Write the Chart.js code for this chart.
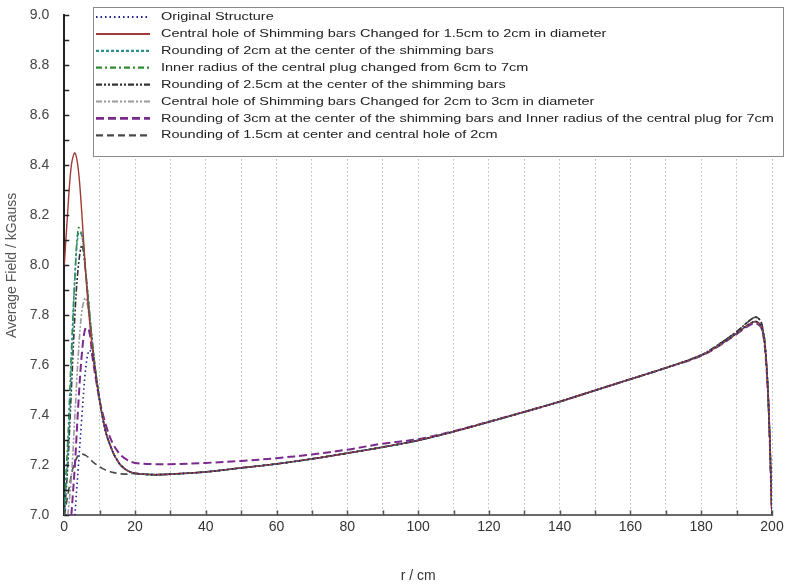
<!DOCTYPE html>
<html>
<head>
<meta charset="utf-8">
<script src="https://cdn.jsdelivr.net/npm/chart.js@4.4.0/dist/chart.umd.min.js"></script>
<style>
  body { margin: 0; background: #fff; }
  #wrap { width: 789px; height: 587px; position: relative; }
</style>
</head>
<body>
<div id="wrap"><canvas id="fieldChart"></canvas></div>
<script>
// radius positions (cm)
const headR = [0, 1, 2, 3, 4, 5, 6, 7, 8, 9, 10, 11, 12, 13, 14, 15, 16, 18];
const tailR = [20, 25, 30, 40, 50, 60, 70, 80, 90, 100, 110, 120, 130, 140, 150, 160, 170, 180, 185, 190, 193, 195, 196, 197, 198, 199, 200];

// common part of the field profile, r >= 20
const tailCommon = [7.168, 7.163, 7.165, 7.174, 7.19, 7.206, 7.226, 7.249, 7.273, 7.3, 7.335, 7.374, 7.414, 7.455, 7.5, 7.545, 7.59, 7.64, 7.68, 7.728, 7.76, 7.775, 7.772, 7.755, 7.68, 7.45, 7.0];
const tailPeakHigh = [7.168, 7.163, 7.165, 7.174, 7.19, 7.206, 7.226, 7.249, 7.273, 7.3, 7.335, 7.374, 7.414, 7.455, 7.5, 7.545, 7.59, 7.642, 7.685, 7.735, 7.772, 7.792, 7.79, 7.77, 7.69, 7.45, 7.0];
const tailPurple = [7.21, 7.205, 7.205, 7.21, 7.218, 7.229, 7.244, 7.263, 7.287, 7.305, 7.337, 7.375, 7.414, 7.455, 7.5, 7.545, 7.59, 7.638, 7.678, 7.725, 7.755, 7.768, 7.765, 7.75, 7.67, 7.44, 7.0];

// early part, r = 0..18 (null = not drawn)
const headOriginal = [null, null, null, 7.0, 7.2, 7.4, 7.58, 7.66, 7.64, 7.55, 7.46, 7.38, 7.32, 7.28, 7.245, 7.22, 7.2, 7.178];
const headHole15to2 = [8.0, 8.22, 8.4, 8.45, 8.38, 8.2, 7.98, 7.8, 7.66, 7.55, 7.46, 7.38, 7.32, 7.28, 7.245, 7.22, 7.2, 7.178];
const headRound2 = [7.0, 7.25, 7.6, 7.95, 8.13, 8.12, 7.98, 7.83, 7.68, 7.56, 7.46, 7.38, 7.32, 7.28, 7.245, 7.22, 7.2, 7.178];
const headInner7 = [7.05, 7.3, 7.65, 7.95, 8.15, 8.12, 7.98, 7.83, 7.68, 7.56, 7.46, 7.38, 7.32, 7.28, 7.245, 7.22, 7.2, 7.178];
const headRound25 = [7.0, 7.2, 7.5, 7.8, 8.0, 8.08, 7.98, 7.83, 7.68, 7.56, 7.46, 7.38, 7.32, 7.28, 7.245, 7.22, 7.2, 7.178];
const headHole2to3 = [null, 7.0, 7.15, 7.4, 7.65, 7.82, 7.87, 7.8, 7.68, 7.56, 7.46, 7.38, 7.32, 7.28, 7.245, 7.22, 7.2, 7.178];
const headRound3 = [null, null, 7.0, 7.2, 7.45, 7.65, 7.75, 7.74, 7.63, 7.54, 7.46, 7.4, 7.35, 7.31, 7.28, 7.258, 7.24, 7.22];
const headRound15 = [7.0, 7.08, 7.16, 7.215, 7.24, 7.245, 7.24, 7.23, 7.215, 7.204, 7.194, 7.186, 7.18, 7.175, 7.171, 7.168, 7.166, 7.165];

const labels = [
  "Original Structure",
  "Central hole of Shimming bars Changed for 1.5cm to 2cm in diameter",
  "Rounding of 2cm at the center of the shimming bars",
  "Inner radius of the central plug changed from 6cm to 7cm",
  "Rounding of 2.5cm at the center of the shimming bars",
  "Central hole of Shimming bars Changed for 2cm to 3cm in diameter",
  "Rounding of 3cm at the center of the shimming bars and Inner radius of the central plug for 7cm",
  "Rounding of 1.5cm at center and central hole of 2cm"
];

function points(head, tail) {
  const r = headR.concat(tailR);
  const v = head.concat(tail);
  const out = [];
  r.forEach((x, i) => {
    if (v[i] !== null) out.push({ x: x, y: v[i] });
  });
  return out;
}

const series = [
  { data: points(headOriginal, tailCommon), color: "#1f1f8f", dash: [1.5, 3], width: 1.6 },
  { data: points(headHole15to2, tailCommon), color: "#a23a35", dash: [], width: 1.4 },
  { data: points(headRound2, tailCommon), color: "#2f8f8f", dash: [3, 2], width: 1.6 },
  { data: points(headInner7, tailCommon), color: "#2f8a2f", dash: [6, 3, 2, 3], width: 1.6 },
  { data: points(headRound25, tailPeakHigh), color: "#333333", dash: [6, 2, 2, 2, 2, 2], width: 1.6 },
  { data: points(headHole2to3, tailCommon), color: "#9a9a9a", dash: [6, 2, 2, 2, 2, 2], width: 1.6 },
  { data: points(headRound3, tailPurple), color: "#7a2a8c", dash: [8, 4], width: 2 },
  { data: points(headRound15, tailPeakHigh), color: "#4a4a4a", dash: [7, 4], width: 1.6 }
];

// legend box drawn inside the plot, like the original
const boxLegend = {
  id: "boxLegend",
  afterDraw(chart) {
    const ctx = chart.ctx;
    const x0 = 93, y0 = 7, w = 690, h = 149;
    ctx.save();
    ctx.fillStyle = "#fff";
    ctx.fillRect(x0, y0, w, h);
    ctx.strokeStyle = "#8a8a8a";
    ctx.lineWidth = 1;
    ctx.strokeRect(x0 + 0.5, y0 + 0.5, w, h);
    ctx.textBaseline = "middle";
    chart.data.datasets.forEach((ds, i) => {
      const y = 17 + i * 16.9;
      ctx.strokeStyle = ds.borderColor;
      ctx.lineWidth = ds.borderWidth + 0.6;
      ctx.setLineDash(ds.borderDash || []);
      ctx.beginPath();
      ctx.moveTo(96, y);
      ctx.lineTo(150, y);
      ctx.stroke();
      ctx.setLineDash([]);
      // the original text is wide and light, stretch Arial a bit
      ctx.save();
      ctx.translate(161, y);
      ctx.scale(1.26, 1);
      ctx.font = "11.5px 'Liberation Sans', Arial, sans-serif";
      ctx.fillStyle = "#222";
      ctx.fillText(ds.label, 0, 0);
      ctx.restore();
    });
    ctx.restore();
  }
};

// tick marks pointing into the plot
const innerTicks = {
  id: "innerTicks",
  afterDraw(chart) {
    const ctx = chart.ctx;
    const xs = chart.scales.x, ys = chart.scales.y;
    const area = chart.chartArea;
    ctx.save();
    ctx.strokeStyle = "#222";
    ctx.lineWidth = 1.5;
    ys.ticks.forEach((t) => {
      const y = Math.round(ys.getPixelForValue(t.value)) + 0.5;
      ctx.beginPath();
      ctx.moveTo(area.left, y);
      ctx.lineTo(area.left + 5, y);
      ctx.stroke();
    });
    ctx.strokeStyle = "#555";
    xs.ticks.forEach((t) => {
      const x = Math.round(xs.getPixelForValue(t.value)) + 0.5;
      ctx.beginPath();
      ctx.moveTo(x, area.bottom);
      ctx.lineTo(x, area.bottom - 5);
      ctx.stroke();
    });
    ctx.restore();
  }
};

const ctx = document.getElementById("fieldChart").getContext("2d");
new Chart(ctx, {
  type: "line",
  data: {
    datasets: series.map((s, i) => ({
      label: labels[i],
      data: s.data,
      borderColor: s.color,
      backgroundColor: s.color,
      borderDash: s.dash,
      borderWidth: s.width,
      pointRadius: 0,
      tension: 0.35,
      fill: false
    }))
  },
  options: {
    responsive: true,
    maintainAspectRatio: false,
    animation: false,
    layout: { padding: { top: 2, right: 17, left: 4, bottom: 0 } },
    plugins: {
      legend: { display: false },
      tooltip: { enabled: false }
    },
    scales: {
      x: {
        type: "linear",
        min: 0,
        max: 200,
        ticks: {
          stepSize: 10,
          autoSkip: false,
          maxRotation: 0,
          color: "#333",
          font: { family: "'Liberation Sans', Arial, sans-serif", size: 14 },
          padding: 3,
          callback: (v) => (v % 20 === 0 ? v : "")
        },
        grid: {
          color: "#9a9a9a",
          lineWidth: 1,
          tickLength: 0,
          drawTicks: false
        },
        border: { display: true, color: "#6a6a6a", width: 2, dash: [1, 3] },
        title: {
          display: true,
          text: "r / cm",
          color: "#333",
          font: { family: "'Liberation Sans', Arial, sans-serif", size: 14 },
          padding: { top: 30, bottom: 2 }
        }
      },
      y: {
        min: 7,
        max: 9,
        ticks: {
          stepSize: 0.1,
          autoSkip: false,
          color: "#444",
          font: { family: "'Liberation Sans', Arial, sans-serif", size: 14 },
          padding: 7,
          callback: (v) => (Math.round(v * 10) % 2 === 0 ? v.toFixed(1) : "")
        },
        grid: { display: false },
        border: { display: true, color: "#222", width: 2 },
        title: {
          display: true,
          text: "Average Field / kGauss",
          color: "#555",
          font: { family: "'Liberation Sans', Arial, sans-serif", size: 14 },
          padding: { top: 0, bottom: 2 }
        }
      }
    }
  },
  plugins: [boxLegend, innerTicks]
});
</script>
</body>
</html>
